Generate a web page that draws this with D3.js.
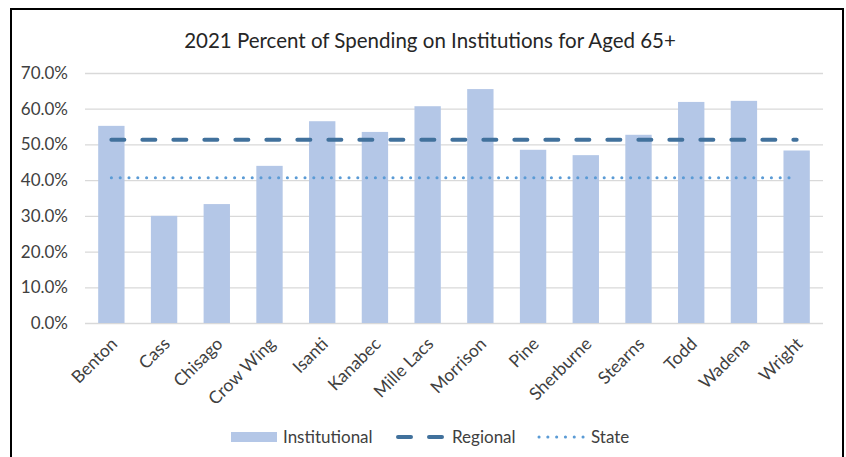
<!DOCTYPE html>
<html>
<head>
<meta charset="utf-8">
<script src="https://cdn.jsdelivr.net/npm/d3@7"></script>
<style>
  body { margin: 0; background: #fff; }
  text { font-family: Lato, "Open Sans", sans-serif; }
</style>
</head>
<body>
<script>
var counties = ["Benton", "Cass", "Chisago", "Crow Wing", "Isanti", "Kanabec", "Mille Lacs",
  "Morrison", "Pine", "Sherburne", "Stearns", "Todd", "Wadena", "Wright"];
var institutional = [55.2, 30.0, 33.3, 44.0, 56.5, 53.5, 60.7, 65.5, 48.5, 47.0, 52.7, 61.9, 62.2, 48.3];
var regional = [51.3, 51.3, 51.3, 51.3, 51.3, 51.3, 51.3, 51.3, 51.3, 51.3, 51.3, 51.3, 51.3, 51.3];
var state = [40.7, 40.7, 40.7, 40.7, 40.7, 40.7, 40.7, 40.7, 40.7, 40.7, 40.7, 40.7, 40.7, 40.7];
var yTicks = [0, 10, 20, 30, 40, 50, 60, 70];

var width = 846, height = 457;
var margin = {left: 85, right: 23, top: 73, bottom: 134};

var svg = d3.select("body").append("svg")
  .attr("width", width)
  .attr("height", height);

// outer frame
svg.append("rect")
  .attr("x", 11).attr("y", 9)
  .attr("width", 832).attr("height", 470)
  .attr("fill", "#fff")
  .attr("stroke", "#000")
  .attr("stroke-width", 2);

var x = d3.scaleBand()
  .domain(counties)
  .range([margin.left, width - margin.right])
  .paddingInner(0.5)
  .paddingOuter(0.25);

var y = d3.scaleLinear()
  .domain([0, 70])
  .range([height - margin.bottom, margin.top]);

// title
svg.append("text")
  .attr("x", 430).attr("y", 48)
  .attr("text-anchor", "middle")
  .style("font-size", "20.5px")
  .style("fill", "#262626")
  .text("2021 Percent of Spending on Institutions for Aged 65+");

// gridlines
svg.append("g")
  .attr("class", "grid")
  .attr("transform", "translate(" + margin.left + ",0)")
  .call(d3.axisLeft(y).tickValues(yTicks).tickSize(-(width - margin.left - margin.right)).tickFormat(""))
  .call(g => g.select(".domain").remove())
  .selectAll("line")
  .attr("stroke", "#d9d9d9")
  .attr("stroke-width", 1.3);

// y labels
svg.append("g")
  .attr("transform", "translate(" + (margin.left - 14) + ",0)")
  .call(d3.axisLeft(y).tickValues(yTicks).tickSize(0).tickFormat(d => d.toFixed(1) + "%"))
  .call(g => g.select(".domain").remove())
  .selectAll("text")
  .style("font-size", "17px")
  .style("font-family", "Lato, sans-serif")
  .style("fill", "#404040");

// bars
svg.selectAll("rect.bar")
  .data(institutional)
  .enter()
  .append("rect")
  .attr("class", "bar")
  .attr("x", (d, i) => x(counties[i]))
  .attr("width", x.bandwidth())
  .attr("y", d => y(d))
  .attr("height", d => y(0) - y(d))
  .attr("fill", "#b4c7e7");

var line = d3.line()
  .x((d, i) => x(counties[i]) + x.bandwidth() / 2)
  .y(d => y(d));

svg.append("path")
  .attr("d", line(regional))
  .attr("fill", "none")
  .attr("stroke", "#41719c")
  .attr("stroke-width", 4)
  .attr("stroke-linecap", "round")
  .attr("stroke-dasharray", "13 18");

svg.append("path")
  .attr("d", line(state))
  .attr("fill", "none")
  .attr("stroke", "#5b9bd5")
  .attr("stroke-width", 3)
  .attr("stroke-linecap", "round")
  .attr("stroke-dasharray", "0.1 8.7");

// x labels
svg.append("g")
  .selectAll("text")
  .data(counties)
  .enter()
  .append("text")
  .attr("transform", d => "translate(" + (x(d) + x.bandwidth() / 2 + 7) + "," + 345 + ") rotate(-45)")
  .attr("text-anchor", "end")
  .style("font-size", "17.5px")
  .style("fill", "#404040")
  .text(d => d);

// legend
var legend = svg.append("g");
legend.append("rect")
  .attr("x", 231).attr("y", 432)
  .attr("width", 46).attr("height", 10)
  .attr("fill", "#b4c7e7");
legend.append("text")
  .attr("x", 283).attr("y", 443)
  .style("font-size", "17px")
  .style("fill", "#404040")
  .text("Institutional");

legend.append("line")
  .attr("x1", 398).attr("x2", 446)
  .attr("y1", 437).attr("y2", 437)
  .attr("stroke", "#41719c")
  .attr("stroke-width", 4)
  .attr("stroke-linecap", "round")
  .attr("stroke-dasharray", "13 18");
legend.append("text")
  .attr("x", 452).attr("y", 443)
  .style("font-size", "17px")
  .style("fill", "#404040")
  .text("Regional");

legend.append("line")
  .attr("x1", 539).attr("x2", 585)
  .attr("y1", 437).attr("y2", 437)
  .attr("stroke", "#5b9bd5")
  .attr("stroke-width", 3)
  .attr("stroke-linecap", "round")
  .attr("stroke-dasharray", "0.1 8.7");
legend.append("text")
  .attr("x", 591).attr("y", 443)
  .style("font-size", "17px")
  .style("fill", "#404040")
  .text("State");
</script>
</body>
</html>
